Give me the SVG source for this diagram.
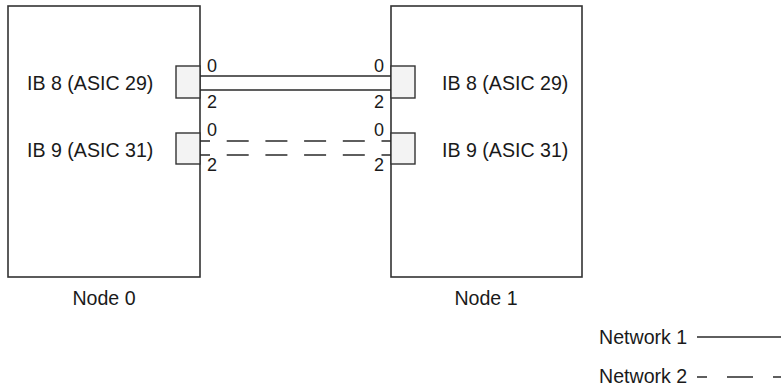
<svg xmlns="http://www.w3.org/2000/svg" width="781" height="388" viewBox="0 0 781 388">
<style>
text{font-family:"Liberation Sans",Arial,sans-serif;fill:#1a1a1a}
.lbl{font-size:19.6px}
.pn{font-size:18px}
.box{fill:#fff;stroke:#333;stroke-width:1.6}
.port{fill:#f3f3f3;stroke:#333;stroke-width:1.4}
.ln{stroke:#2a2a2a;stroke-width:1.3;fill:none}
.dl{stroke-dasharray:22 16.7;stroke-dashoffset:12}
</style>
<rect width="781" height="388" fill="#fff"/>
<g id="node0">
<rect class="box" x="8" y="6" width="192" height="271"/>
<rect class="port" x="176" y="66" width="24" height="32"/>
<rect class="port" x="176" y="133" width="24" height="31"/>
<text class="lbl" x="27" y="90">IB 8 (ASIC 29)</text>
<text class="lbl" x="27" y="157">IB 9 (ASIC 31)</text>
<text class="lbl" x="104" y="305" text-anchor="middle">Node 0</text>
<text class="pn" x="207" y="72">0</text>
<text class="pn" x="207" y="108">2</text>
<text class="pn" x="207" y="136">0</text>
<text class="pn" x="207" y="171">2</text>
</g>
<g id="node1">
<rect class="box" x="391" y="6" width="191" height="271"/>
<rect class="port" x="391" y="66" width="24" height="32"/>
<rect class="port" x="391" y="133" width="24" height="31"/>
<text class="lbl" x="442" y="90">IB 8 (ASIC 29)</text>
<text class="lbl" x="442" y="157">IB 9 (ASIC 31)</text>
<text class="lbl" x="486" y="305" text-anchor="middle">Node 1</text>
<text class="pn" x="384" y="72" text-anchor="end">0</text>
<text class="pn" x="384" y="108" text-anchor="end">2</text>
<text class="pn" x="384" y="136" text-anchor="end">0</text>
<text class="pn" x="384" y="171" text-anchor="end">2</text>
</g>
<g id="connectors">
<line class="ln" x1="200" y1="76" x2="391" y2="76"/>
<line class="ln" x1="200" y1="90" x2="391" y2="90"/>
<line class="ln dl" x1="200" y1="141" x2="391" y2="141"/>
<line class="ln dl" x1="200" y1="155" x2="391" y2="155"/>
</g>
<g id="legend">
<text class="lbl" x="599" y="344">Network 1</text>
<line class="ln" x1="697" y1="337" x2="781" y2="337"/>
<text class="lbl" x="599" y="383">Network 2</text>
<line class="ln" x1="697" y1="377" x2="781" y2="377" style="stroke-dasharray:26 20;stroke-dashoffset:16"/>
</g>
</svg>
